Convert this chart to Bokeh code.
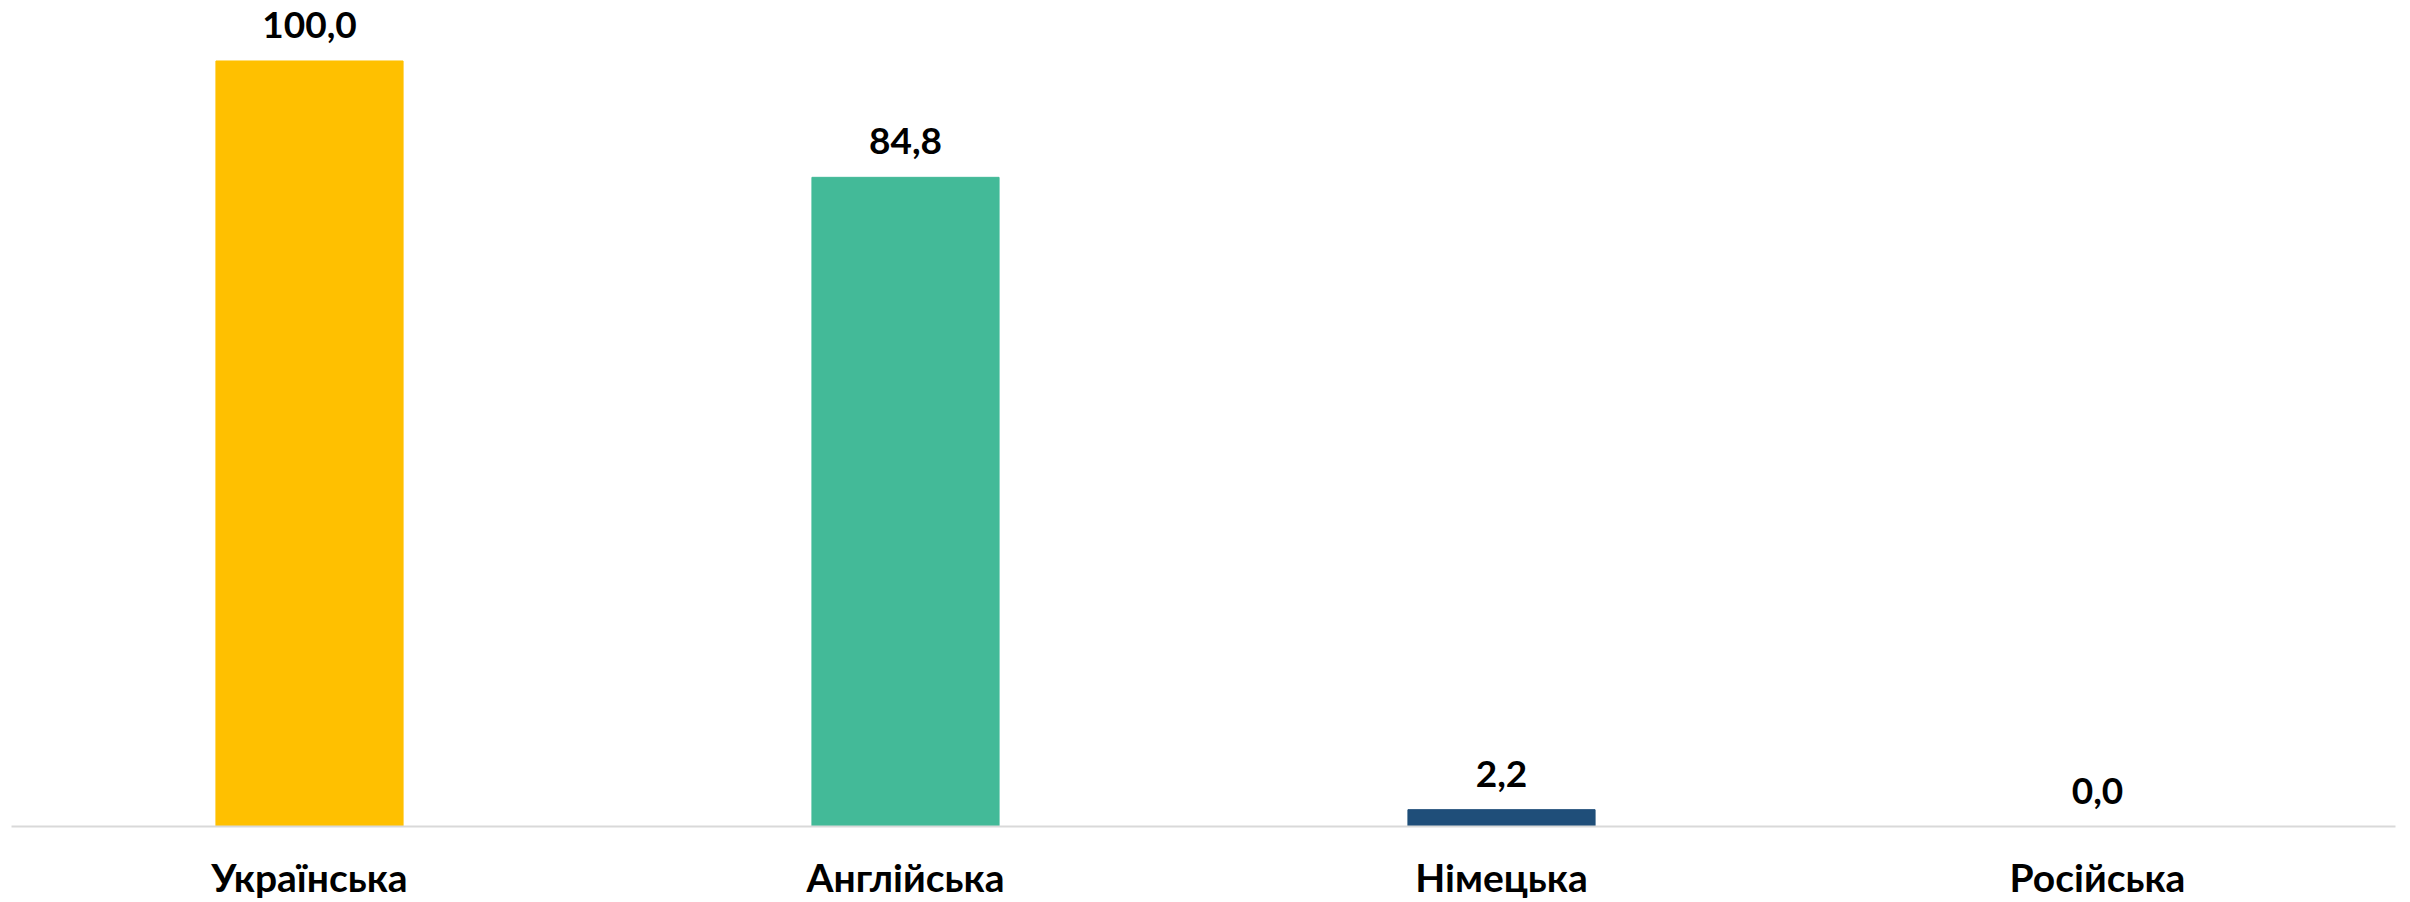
from bokeh.plotting import figure
from bokeh.models import ColumnDataSource, Range1d, LabelSet
from bokeh.core.properties import value
from bokeh.embed import file_html
from bokeh.resources import INLINE

categories = ["Українська", "Англійська", "Німецька", "Російська"]
values = [100.0, 84.8, 2.2, 0.0]
labels = ["100,0", "84,8", "2,2", "0,0"]
colors = ["#FFC000", "#43BA98", "#1F4E79", "#A5A5A5"]

src = ColumnDataSource(dict(cat=categories, val=values, lab=labels, col=colors))

p = figure(x_range=categories, y_range=Range1d(0, 107.9), width=2402, height=902,
           output_backend="svg", toolbar_location=None,
           min_border_left=11, min_border_right=7, min_border_top=0, min_border_bottom=0)
p.vbar(x="cat", top="val", width=0.314, color="col", source=src)
ls = LabelSet(x="cat", y="val", text="lab", source=src, text_align="center",
              text_baseline="alphabetic", y_offset=23,
              text_font=value("Lato"), text_font_style="bold", text_font_size="37px",
              text_color="black")
p.add_layout(ls)

p.yaxis.visible = False
p.xgrid.visible = False
p.ygrid.visible = False
p.outline_line_color = None
p.xaxis.axis_line_color = "#D9D9D9"
p.xaxis.axis_line_width = 2
p.xaxis.major_tick_line_color = None
p.xaxis.minor_tick_line_color = None
p.xaxis.major_label_standoff = 21
p.xaxis.major_label_text_font = "Lato"
p.xaxis.major_label_text_font_style = "bold"
p.xaxis.major_label_text_font_size = "39px"
p.xaxis.major_label_text_color = "black"

open("out.html", "w").write(file_html(p, INLINE))
